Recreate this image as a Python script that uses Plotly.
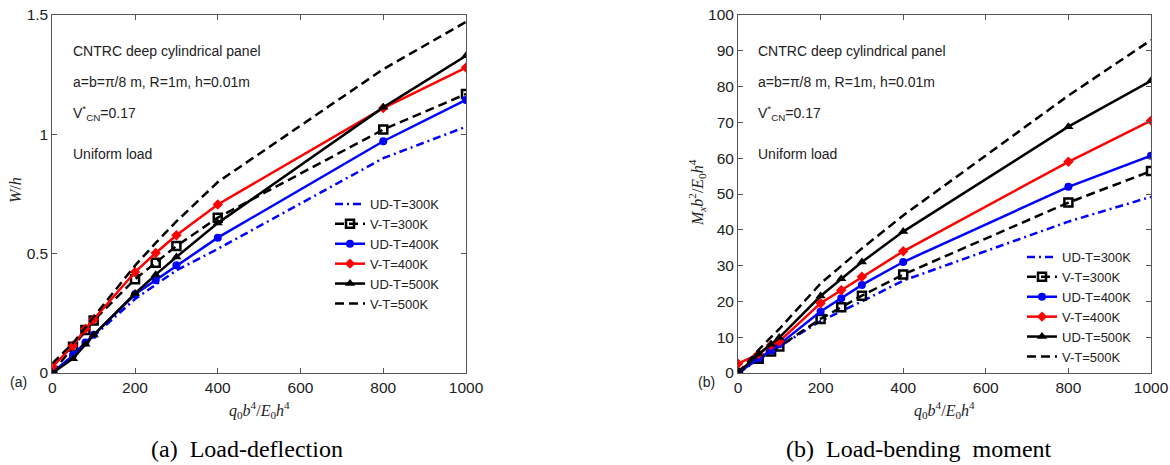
import plotly.graph_objects as go

# ---------------- data ----------------
load = [0, 50, 80, 100, 200, 250, 300, 400, 800, 1000]

# (a) load-deflection W/h
w_ud300 = [0, 0.07, 0.12, 0.155, 0.31, 0.37, 0.43, 0.52, 0.90, 1.032]
w_v300 = [0, 0.11, 0.18, 0.22, 0.393, 0.462, 0.532, 0.651, 1.02, 1.169]
w_ud400 = [0, 0.075, 0.128, 0.16, 0.33, 0.389, 0.451, 0.567, 0.971, 1.144]
w_v400 = [0.026, 0.114, 0.185, 0.224, 0.423, 0.503, 0.577, 0.706, 1.11, 1.28]
w_ud500 = [0, 0.06, 0.12, 0.159, 0.333, 0.412, 0.486, 0.628, 1.113, 1.329]
w_v500 = [0.04, 0.125, 0.19, 0.235, 0.45, 0.545, 0.635, 0.80, 1.273, 1.471]

# (b) load-bending moment Mx b^2 / E0 h^4
m_ud300 = [0, 3.8, 6.0, 7.4, 14.5, 17.2, 20.0, 25.8, 42.3, 49.2]
m_v300 = [0, 4.0, 6.0, 7.4, 15.1, 18.4, 21.6, 27.5, 47.6, 56.4]
m_ud400 = [0, 4.1, 6.3, 8.0, 17.2, 20.9, 24.6, 31.0, 52.0, 60.7]
m_v400 = [2.6, 5.3, 7.8, 8.8, 19.5, 23.1, 26.9, 34.0, 59.0, 70.5]
m_ud500 = [0, 5.3, 8.0, 9.9, 21.5, 26.3, 31.0, 39.5, 68.8, 81.6]
m_v500 = [0, 6.5, 10.0, 12.3, 25.0, 29.8, 34.8, 44.0, 77.5, 93.0]

names = ["UD-T=300K", "V-T=300K", "UD-T=400K", "V-T=400K", "UD-T=500K", "V-T=500K"]
x_ticks = [0, 200, 400, 600, 800, 1000]
w_ticks = [0, 0.5, 1, 1.5]
w_ticklabels = ["0", "0.5", "1", "1.5"]
m_ticks = [0, 10, 20, 30, 40, 50, 60, 70, 80, 90, 100]

# ---------------- styles ----------------
styles = [
    dict(mode="lines", line=dict(color="#0000ff", width=2.5, dash="8px,4px,2px,4px")),
    dict(mode="lines+markers", line=dict(color="black", width=2.5, dash="9px,5px"),
         marker=dict(symbol="square-open", size=8, color="black", line=dict(width=2.5, color="black"))),
    dict(mode="lines+markers", line=dict(color="#0000ff", width=2.5),
         marker=dict(symbol="circle", size=8, color="#0000ff")),
    dict(mode="lines+markers", line=dict(color="#ff0000", width=2.5),
         marker=dict(symbol="diamond", size=8, color="#ff0000")),
    dict(mode="lines+markers", line=dict(color="black", width=2.5),
         marker=dict(symbol="triangle-up", size=9, color="black")),
    dict(mode="lines", line=dict(color="black", width=2.5, dash="9px,5px")),
]

W = 1170
H = 465
SANS = "Liberation Sans, Arial, sans-serif"
SERIF = "Liberation Serif, Times New Roman, serif"

fig = go.Figure()
for name, ys, st in zip(names, [w_ud300, w_v300, w_ud400, w_v400, w_ud500, w_v500], styles):
    fig.add_trace(go.Scatter(x=load, y=ys, name=name, xaxis="x", yaxis="y", legend="legend", **st))
for name, ys, st in zip(names, [m_ud300, m_v300, m_ud400, m_v400, m_ud500, m_v500], styles):
    fig.add_trace(go.Scatter(x=load, y=ys, name=name, xaxis="x2", yaxis="y2", legend="legend2", **st))

ydom = [(H - 373) / H, (H - 15) / H]
axis_common = dict(showline=True, linecolor="#555", linewidth=1, mirror="ticks", ticks="inside",
                   ticklen=5, tickcolor="#555", showgrid=False, zeroline=False, automargin=False,
                   tickfont=dict(family=SANS, size=15.5, color="#222"))

fig.update_layout(
    width=W, height=H, autosize=False,
    margin=dict(l=0, r=0, t=0, b=0, autoexpand=False),
    paper_bgcolor="white", plot_bgcolor="white",
    xaxis=dict(domain=[52.3 / W, 466 / W], range=[0, 1000], tickvals=x_ticks, anchor="y", **axis_common),
    yaxis=dict(domain=ydom, range=[0, 1.5], tickvals=w_ticks, ticktext=w_ticklabels, anchor="x", **axis_common),
    xaxis2=dict(domain=[738 / W, 1151 / W], range=[0, 1000], tickvals=x_ticks, anchor="y2", **axis_common),
    yaxis2=dict(domain=ydom, range=[0, 100], tickvals=m_ticks, anchor="x2", **axis_common),
    legend=dict(x=330 / W, y=1 - 189 / H, xanchor="left", yanchor="top", bgcolor="rgba(0,0,0,0)",
                font=dict(family=SANS, size=13, color="#222"), itemwidth=30, tracegroupgap=0),
    legend2=dict(x=1022 / W, y=1 - 242 / H, xanchor="left", yanchor="top", bgcolor="rgba(0,0,0,0)",
                 font=dict(family=SANS, size=13, color="#222"), itemwidth=30, tracegroupgap=0),
    showlegend=True,
)

ann = []
info = ["CNTRC deep cylindrical panel", "a=b=\u03c0/8 m, R=1m, h=0.01m",
        "V<sup>*</sup><sub>CN</sub>=0.17", "Uniform load"]
info_y = [50.7, 82, 113, 154]
for x0 in [71, 756]:
    for t, yy in zip(info, info_y):
        ann.append(dict(x=x0 / W, y=1 - yy / H, xref="paper", yref="paper", text=t, showarrow=False,
                        xanchor="left", yanchor="middle", font=dict(family=SANS, size=14, color="#222")))

xtitle = "<i>q</i><sub>0</sub><i>b</i><sup>4</sup>/<i>E</i><sub>0</sub><i>h</i><sup>4</sup>"
for xc in [259, 944.5]:
    ann.append(dict(x=xc / W, y=1 - 410 / H, xref="paper", yref="paper", text=xtitle, showarrow=False,
                    xanchor="center", yanchor="middle", font=dict(family=SERIF, size=16, color="#222")))

ann.append(dict(x=15 / W, y=1 - 190 / H, xref="paper", yref="paper", text="<i>W</i>/<i>h</i>",
                showarrow=False, textangle=-90, xanchor="center", yanchor="middle",
                font=dict(family=SERIF, size=16, color="#222")))
ann.append(dict(x=697 / W, y=1 - 193 / H, xref="paper", yref="paper",
                text="<i>M</i><sub><i>x</i></sub><i>b</i><sup>2</sup>/<i>E</i><sub>0</sub><i>h</i><sup>4</sup>",
                showarrow=False, textangle=-90, xanchor="center", yanchor="middle",
                font=dict(family=SERIF, size=16, color="#222")))

ann.append(dict(x=18 / W, y=1 - 382 / H, xref="paper", yref="paper", text="(a)", showarrow=False,
                xanchor="center", yanchor="middle", font=dict(family=SANS, size=14, color="#222")))
ann.append(dict(x=706 / W, y=1 - 382 / H, xref="paper", yref="paper", text="(b)", showarrow=False,
                xanchor="center", yanchor="middle", font=dict(family=SANS, size=14, color="#222")))

ann.append(dict(x=247 / W, y=1 - 449 / H, xref="paper", yref="paper", text="(a)  Load-deflection",
                showarrow=False, xanchor="center", yanchor="middle",
                font=dict(family=SERIF, size=24, color="black")))
ann.append(dict(x=919 / W, y=1 - 449 / H, xref="paper", yref="paper", text="(b)  Load-bending  moment",
                showarrow=False, xanchor="center", yanchor="middle",
                font=dict(family=SERIF, size=24, color="black")))

fig.update_layout(annotations=ann)
fig.write_html("out.html", config={"displayModeBar": False},
               post_script="document.body.style.margin='0px';document.body.style.overflow='hidden';")
